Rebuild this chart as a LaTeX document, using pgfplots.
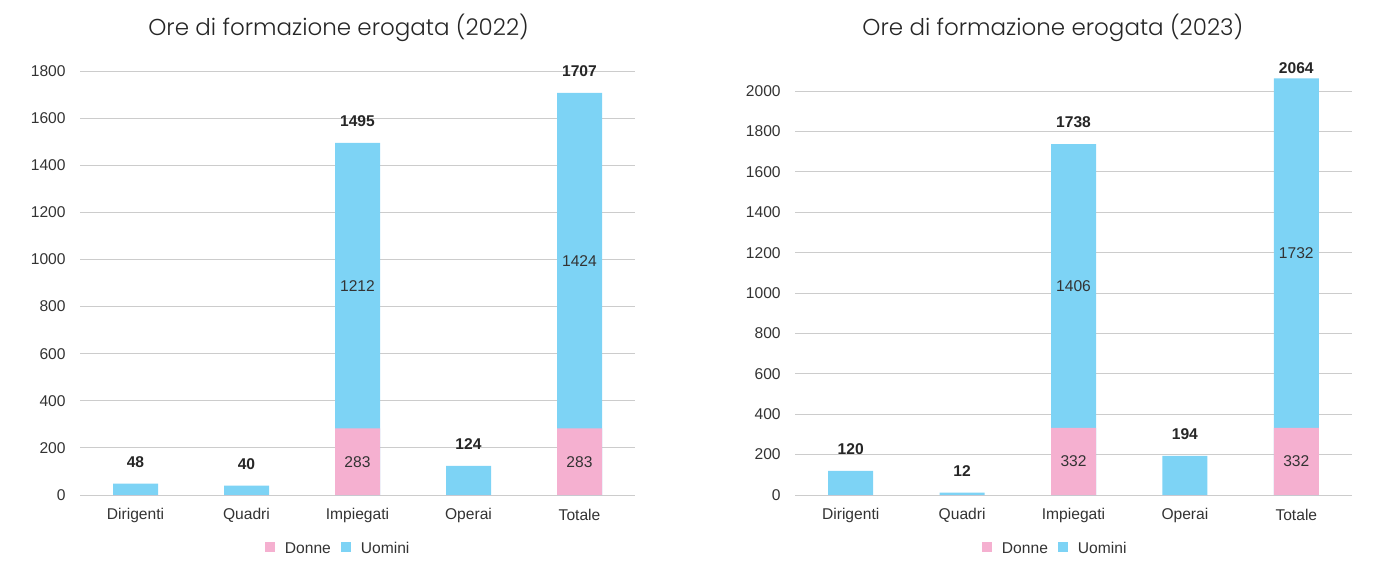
\documentclass[border=0pt]{standalone}
\usepackage{pgfplots}
\pgfplotsset{compat=1.18}
\usepackage{pgfplotstable}
\usepackage{fontspec}
\setmainfont{Liberation Sans}
\newfontfamily\titlefont{Poppins Light}
\definecolor{uomc}{HTML}{7DD3F5}
\definecolor{donc}{HTML}{F5B0D0}
\definecolor{gridc}{HTML}{CCCCCC}
\definecolor{txtc}{HTML}{333333}
\pgfkeys{/pgf/number format/.cd, 1000 sep={}, assume math mode=true}

\pgfplotstableread{
x donne uomini
0 0 48
1 0 40
2 283 1212
3 0 124
4 283 1424
}\dataA
\pgfplotstableread{
x donne uomini
0 0 120
1 0 12
2 332 1406
3 0 194
4 332 1732
}\dataB

\pgfplotsset{
  mychart/.style={
    scale only axis, width=#1, height=212pt,
    anchor=south west,
    xmin=-0.5, xmax=4.5, ymin=0,
    xtick={0,1,2,3,4},
    xticklabels={Dirigenti,Quadri,Impiegati,Operai,Totale},
    axis line style={draw=none},
    major tick length=0pt,
    ymajorgrids, grid style={gridc, line width=0.5pt},
    tick label style={font=\fontsize{7.8}{9}\selectfont, text=txtc},
    yticklabel style={inner sep=0pt, anchor=east, xshift=-7pt},
    xticklabel style={inner sep=0pt, anchor=center, yshift=-10pt},
    legend style={draw=none, fill=none, anchor=center, font=\fontsize{7.8}{9}\selectfont, text=txtc,
      legend columns=2, column sep=3pt, inner sep=0pt},
    legend image code/.code={\fill[##1] (0pt,-1.5pt) rectangle (5pt,3.5pt);},
  },
  barU/.style={ybar, bar width=22.5pt, bar shift=0pt, fill=uomc, draw=none,
    nodes near coords, point meta=y,
    every node near coord/.append style={font=\bfseries\fontsize{7.8}{9}\selectfont, text=black!85, anchor=south, inner sep=0pt, yshift=8pt},
    coordinate style/.condition={y>2000}{yshift=-6pt}},
  barD/.style={ybar, bar width=22.5pt, bar shift=0pt, fill=donc, draw=none},
  inlab/.style={draw=none, mark=none, nodes near coords, point meta=explicit,
    every node near coord/.append style={font=\fontsize{7.8}{9}\selectfont, text=txtc, anchor=center, inner sep=0pt},
    restrict expr to domain={\thisrow{donne}}{1:100000}},
}

\begin{document}
\begin{tikzpicture}
\path[use as bounding box] (0,0) rectangle (689.5pt,287.5pt);

\begin{axis}[mychart=277.5pt, at={(40pt,40pt)}, ymax=1800, ytick={0,200,...,1800},
  title={Ore di formazione erogata (2022)},
  title style={at={(0.466,1.073)}, anchor=center, font=\titlefont\fontsize{11.5}{13}\selectfont, text=black!85},
  legend style={at={(0.467,-0.128)}}]
\addlegendimage{fill=donc, draw=none}\addlegendentry{Donne}
\addlegendimage{fill=uomc, draw=none}\addlegendentry{Uomini}
\addplot[barU, forget plot] table[x=x, y expr=\thisrow{donne}+\thisrow{uomini}] {\dataA};
\addplot[barD, forget plot] table[x=x, y=donne] {\dataA};
\addplot[inlab, forget plot] table[x=x, y expr=\thisrow{donne}+\thisrow{uomini}/2, meta=uomini] {\dataA};
\addplot[inlab, forget plot] table[x=x, y expr=\thisrow{donne}/2, meta=donne] {\dataA};
\end{axis}

\begin{axis}[mychart=278.5pt, at={(397.5pt,40pt)}, ymax=2100, ytick={0,200,...,2000},
  title={Ore di formazione erogata (2023)},
  title style={at={(0.463,1.073)}, anchor=center, font=\titlefont\fontsize{11.5}{13}\selectfont, text=black!85},
  legend style={at={(0.469,-0.128)}}]
\addlegendimage{fill=donc, draw=none}\addlegendentry{Donne}
\addlegendimage{fill=uomc, draw=none}\addlegendentry{Uomini}
\addplot[barU, forget plot] table[x=x, y expr=\thisrow{donne}+\thisrow{uomini}] {\dataB};
\addplot[barD, forget plot] table[x=x, y=donne] {\dataB};
\addplot[inlab, forget plot] table[x=x, y expr=\thisrow{donne}+\thisrow{uomini}/2, meta=uomini] {\dataB};
\addplot[inlab, forget plot] table[x=x, y expr=\thisrow{donne}/2, meta=donne] {\dataB};
\end{axis}
\end{tikzpicture}
\end{document}
